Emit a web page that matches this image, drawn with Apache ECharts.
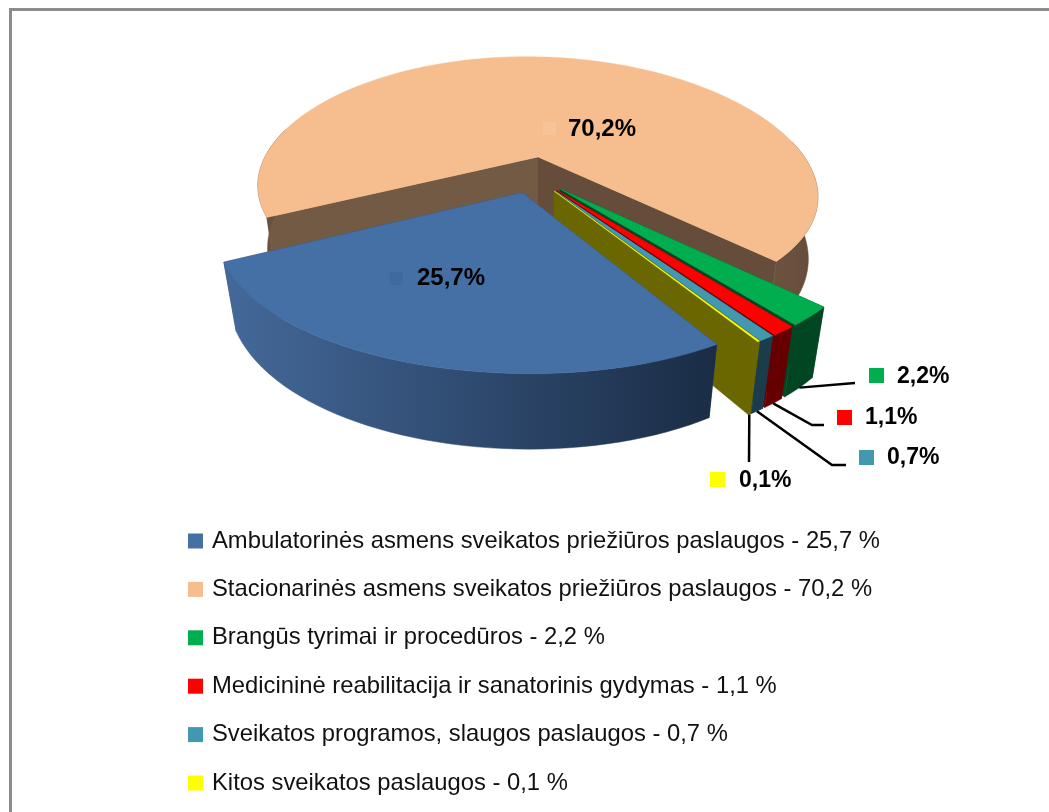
<!DOCTYPE html>
<html>
<head>
<meta charset="utf-8">
<style>
  html, body { margin: 0; padding: 0; background: #fff; }
  #chart { width: 1049px; height: 812px; }
</style>
<script src="https://cdn.jsdelivr.net/npm/echarts@6/dist/echarts.min.js"></script>
</head>
<body>
<div id="chart"></div>
<script>
const categories = [
  'Ambulatorinės asmens sveikatos priežiūros paslaugos',
  'Stacionarinės asmens sveikatos priežiūros paslaugos',
  'Brangūs tyrimai ir procedūros',
  'Medicininė reabilitacija ir sanatorinis gydymas',
  'Sveikatos programos, slaugos paslaugos',
  'Kitos sveikatos paslaugos'
];
const shares = [25.7, 70.2, 2.2, 1.1, 0.7, 0.1];

const topColors = ['#4470a6', '#f6be8e', '#00ae4f', '#ff0000', '#4198af', '#ffff00'];
const sideStart = ['#2c4a70', '#735a45', '#004622', '#660000', '#1b3c4b', '#6b6700'];
const sideEnd = ['#2c4a70', '#654c3b', '#004622', '#660000', '#1b3c4b', '#6b6700'];
const wallLeft = ['#44699a', '#6e533f', '#004622', '#660000', '#1b3c4b', '#6b6700'];
const wallRight = ['#1a2c45', '#654c3b', '#004622', '#660000', '#1b3c4b', '#6b6700'];
const keyColors = ['#40699d', '#f8c397', '#00ae4f', '#ff0000', '#4198af', '#ffff00'];
// painter order, back to front
const drawOrder = [6, 1, 2, 3, 4, 5];

// where the data labels sit
const labelLayout = [
  { key: [390, 272, 13], text: [417, 278], size: 24, leader: null },
  { key: [543, 122, 13], text: [568, 129], size: 24, leader: null },
  { key: [869, 368, 15], text: [897, 377], size: 23, leader: [[855, 383]] },
  { key: [837, 410, 15], text: [865, 418], size: 23, leader: [[812, 425], [824, 425]] },
  { key: [859, 450, 15], text: [887, 458], size: 23, leader: [[832, 465], [846, 465]] },
  { key: [710, 472, 15], text: [739, 481], size: 23, leader: [[749, 462]] }
];

// fake 3d camera for the exploded pie
const cam = { cx: 539, cy: 157, wx: 270, wy: 275, d: 4.07, s: 0.444, c: 0.896, px: 1.22, roll: 0.021 };
const firstAngle = 148.5;
const explode = 0.142;
const thickness = 0.253;
const axisShift = [-0.022, -0.14];
const rad = Math.PI / 180;

function project(x, y, z) {
  const wx = x + axisShift[0];
  const wy = y + axisShift[1];
  const yc = wy * cam.s + z * cam.c;
  const zc = 1 + (wy * cam.c - z * cam.s) / cam.d;
  const dx = (cam.wx * wx) / Math.pow(zc, cam.px);
  return [cam.cx + dx, cam.cy - (cam.wy * yc) / zc + dx * cam.roll];
}

const total = shares.reduce((a, b) => a + b, 0);
function sliceAngles(i) {
  let before = 0;
  for (let k = 0; k < i; k++) before += shares[k];
  const from = firstAngle + (before / total) * 360;
  return [from, from + (shares[i] / total) * 360];
}

function pct(v) {
  return v.toFixed(1).replace('.', ',');
}

function renderSlice(i, api) {
  const [a0, a1] = sliceAngles(i);
  const mid = ((a0 + a1) / 2) * rad;
  const ox = explode * Math.sin(mid);
  const oy = explode * Math.cos(mid);

  const rim = (deg, z) => project(ox + Math.sin(deg * rad), oy + Math.cos(deg * rad), z);
  const steps = Math.max(2, Math.ceil((a1 - a0) / 2));
  const topArc = [];
  const lowArc = [];
  // only the rim parts that face the viewer get a wall
  const runs = [];
  let run = null;
  for (let k = 0; k <= steps; k++) {
    const t = a0 + ((a1 - a0) * k) / steps;
    topArc.push(rim(t, 0));
    lowArc.push(rim(t, -thickness));
    if (Math.cos(t * rad) < 0.2) {
      if (!run) {
        run = { top: [], low: [] };
        runs.push(run);
      }
      run.top.push(topArc[k]);
      run.low.push(lowArc[k]);
    } else {
      run = null;
    }
  }
  const apexTop = project(ox, oy, 0);
  const apexLow = project(ox, oy, -thickness);

  const poly = (points, fill) => ({
    type: 'polygon',
    shape: { points },
    style: { fill, stroke: fill, lineWidth: 0.5 }
  });

  const children = [
    poly([apexTop, topArc[0], lowArc[0], apexLow], sideStart[i]),
    poly([apexTop, topArc[steps], lowArc[steps], apexLow], sideEnd[i])
  ];
  runs.forEach((r) => {
    children.push(
      poly(
        r.top.concat(r.low.slice().reverse()),
        new echarts.graphic.LinearGradient(0, 0, 1, 0, [
          { offset: 0, color: wallLeft[i] },
          { offset: 1, color: wallRight[i] }
        ])
      )
    );
  });
  children.push(poly([apexTop].concat(topArc), topColors[i]));

  // leader line from the foot of the slice out to its label
  const lay = labelLayout[i];
  if (lay.leader) {
    const midDeg = (a0 + a1) / 2;
    children.push({
      type: 'polyline',
      shape: { points: [rim(midDeg, -thickness)].concat(lay.leader) },
      style: { stroke: '#000', lineWidth: 2.5, fill: null }
    });
  }
  children.push({
    type: 'rect',
    shape: { x: lay.key[0], y: lay.key[1], width: lay.key[2], height: lay.key[2] },
    style: { fill: keyColors[i] }
  });
  children.push({
    type: 'text',
    style: {
      x: lay.text[0],
      y: lay.text[1],
      text: pct(api.value(0)) + '%',
      fill: '#000',
      font: 'bold ' + lay.size + 'px "Liberation Sans", sans-serif',
      verticalAlign: 'middle'
    }
  });
  return { type: 'group', children };
}

const chart = echarts.init(document.getElementById('chart'));
chart.setOption({
  animation: false,
  backgroundColor: '#fff',
  legend: {
    orient: 'vertical',
    left: 188,
    top: 529,
    padding: 0,
    itemWidth: 15,
    itemHeight: 15,
    itemGap: 24.4,
    icon: 'rect',
    data: categories.map((c, i) => c + ' - ' + pct(shares[i]) + ' %'),
    textStyle: {
      fontFamily: '"Liberation Sans", sans-serif',
      fontSize: 23.8,
      lineHeight: 24,
      color: '#111',
      padding: [0, 0, 0, 4]
    },
    selectedMode: false
  },
  graphic: [
    { type: 'rect', shape: { x: 9, y: 8, width: 3, height: 804 }, style: { fill: '#8c8c8c' } },
    { type: 'rect', shape: { x: 9, y: 8, width: 1040, height: 3 }, style: { fill: '#8c8c8c' } }
  ],
  series: categories.map((c, i) => ({
    type: 'custom',
    name: c + ' - ' + pct(shares[i]) + ' %',
    coordinateSystem: 'none',
    z: drawOrder[i],
    itemStyle: { color: topColors[i] },
    data: [[shares[i]]],
    renderItem: (params, api) => renderSlice(i, api)
  }))
});
</script>
</body>
</html>
